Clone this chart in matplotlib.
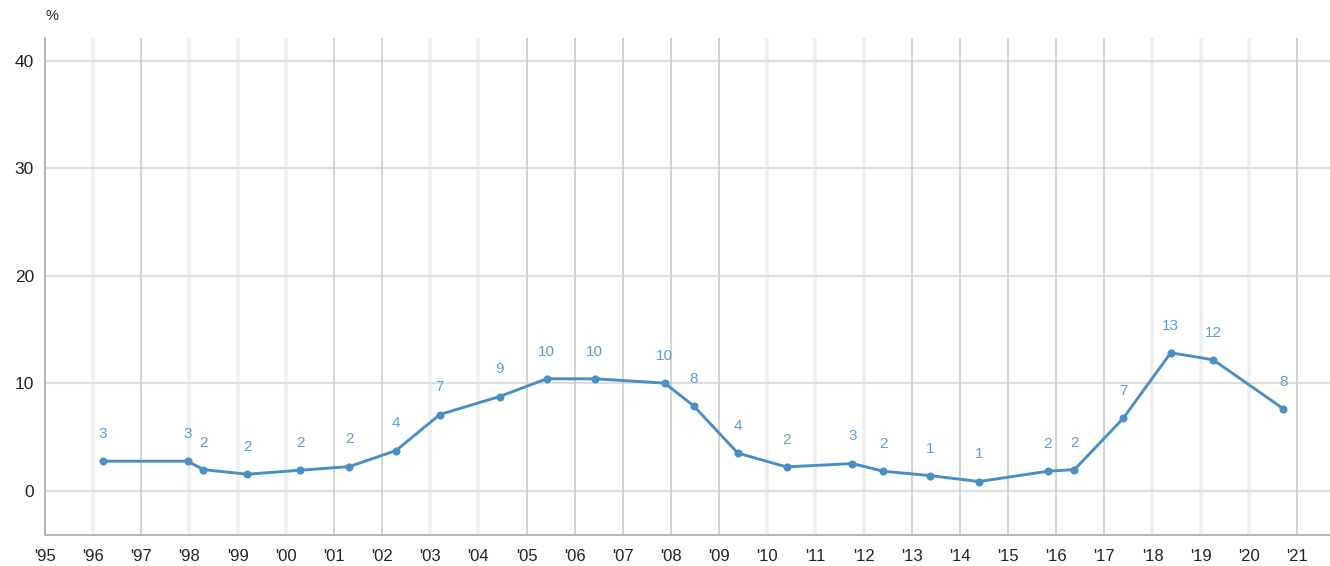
import matplotlib
matplotlib.use("Agg")
import matplotlib.pyplot as plt

plt.rcParams['font.family'] = ['Liberation Sans', 'DejaVu Sans']

# ---- data ----
x_years = [1996.20, 1997.96, 1998.29, 1999.20, 2000.30, 2001.32, 2002.29, 2003.20,
           2004.44, 2005.42, 2006.42, 2007.87, 2008.47, 2009.39, 2010.40, 2011.77,
           2012.41, 2013.38, 2014.40, 2015.83, 2016.38, 2017.39, 2018.38, 2019.26,
           2020.72]
values = [2.76, 2.76, 1.98, 1.55, 1.92, 2.26, 3.75, 7.10,
          8.77, 10.42, 10.42, 10.02, 7.91, 3.51, 2.23, 2.54,
          1.83, 1.42, 0.87, 1.83, 1.98, 6.73, 12.84, 12.19,
          7.63]
tick_years = list(range(1995, 2022))
tick_labels = ["'" + str(y)[2:] for y in tick_years]
y_ticks = [0, 10, 20, 30, 40]
# gridline shade per year (dark / light)
grid_shade = ['D', 'L', 'D', 'L', 'L', 'L', 'D', 'D', 'L', 'L', 'D', 'D', 'D', 'D',
              'D', 'L', 'L', 'L', 'D', 'D', 'D', 'D', 'D', 'L', 'L', 'L', 'D']

W, H = 1330, 566
fig = plt.figure(figsize=(W / 100, H / 100), dpi=100)
ax = fig.add_axes([45 / W, 1 - 535 / H, 1 - 45 / W, (535 - 38) / H])

ax.set_xlim(1995, 1995 + (1330 - 45) / 48.15)
ax.set_ylim(-4.1, 42.1)

# gridlines
for yv in y_ticks:
    ax.axhline(yv, color='#dddddd', lw=1.6, zorder=1)
for yr, s in zip(tick_years, grid_shade):
    if s == 'D':
        ax.axvline(yr, color='#c8c8c8', lw=1.1, zorder=1)
    else:
        ax.axvline(yr, color='#efefef', lw=2.6, zorder=0.9)

for sp in ['top', 'right']:
    ax.spines[sp].set_visible(False)
ax.spines['left'].set_color('#b4b4b4')
ax.spines['left'].set_linewidth(1.4)
ax.spines['bottom'].set_color('#b4b4b4')
ax.spines['bottom'].set_linewidth(1.4)

line_color = '#4a8fc4'
ax.plot(x_years, values, color=line_color, lw=2.1, marker='o', ms=4.8,
        zorder=3, clip_on=False)
for xv, v in zip(x_years, values):
    ax.annotate(f"{v:.0f}", (xv, v), xytext=(0, 19.5), textcoords='offset points',
                ha='center', va='center', fontsize=11, color='#5c9ecf', zorder=4)

ax.set_xticks(tick_years)
ax.set_xticklabels(tick_labels, fontsize=12, color='#222222')
ax.set_yticks(y_ticks)
ax.set_yticklabels([str(t) for t in y_ticks], fontsize=12.5, color='#222222')
ax.tick_params(axis='both', length=0)
ax.tick_params(axis='x', pad=10)
ax.tick_params(axis='y', pad=8)

fig.text(45 / W, 1 - 16 / H, '%', ha='left', va='center', fontsize=10.5, color='#222222')

fig.savefig('out.png', dpi=100)
